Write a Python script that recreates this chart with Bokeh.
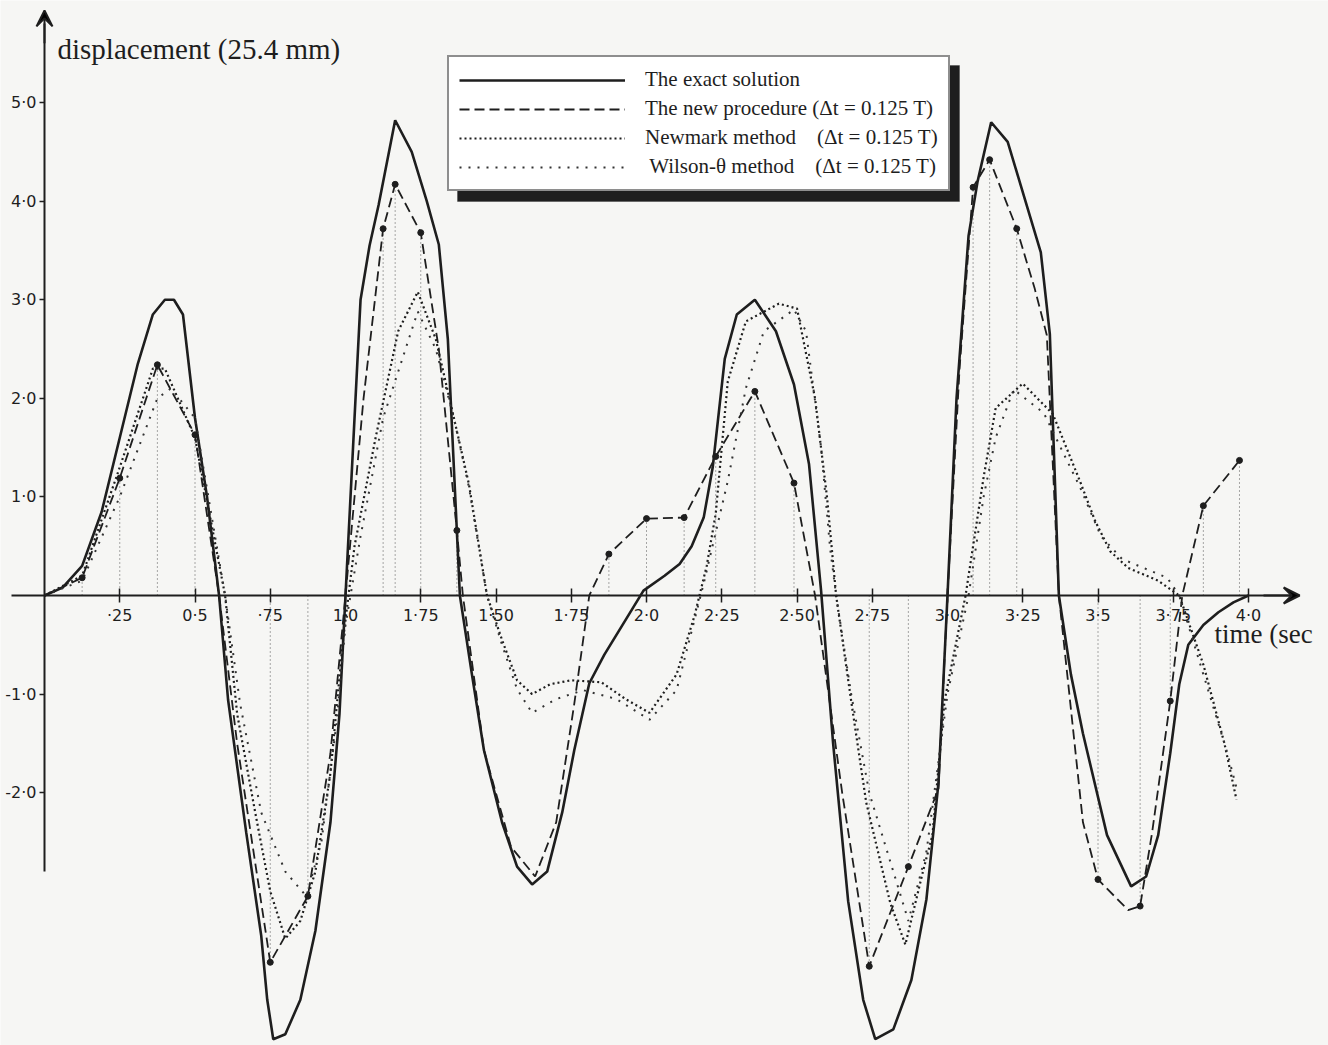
from bokeh.plotting import figure
from bokeh.models import (FixedTicker, Legend, LegendItem, Label, Arrow, VeeHead, Range1d,
                          BoxAnnotation)
from bokeh.embed import file_html
from bokeh.resources import INLINE

# ---------------- data ----------------
exact_t = [0, 0.06, 0.125, 0.19, 0.25, 0.31, 0.36, 0.40, 0.43, 0.46, 0.50, 0.54, 0.58, 0.61, 0.67,
           0.72, 0.74, 0.76, 0.80, 0.85, 0.90, 0.95, 0.98, 1.00, 1.025, 1.05, 1.08, 1.11, 1.165,
           1.22, 1.27, 1.31, 1.34, 1.38, 1.42, 1.46, 1.52, 1.57, 1.62, 1.67, 1.72, 1.76, 1.81,
           1.86, 1.92, 1.99, 2.06, 2.11, 2.15, 2.19, 2.22, 2.26, 2.30, 2.36, 2.43, 2.49, 2.54,
           2.58, 2.62, 2.67, 2.72, 2.76, 2.82, 2.88, 2.93, 2.97, 3.00, 3.03, 3.07, 3.10, 3.145,
           3.20, 3.26, 3.31, 3.34, 3.37, 3.41, 3.45, 3.53, 3.61, 3.66, 3.70, 3.74, 3.77, 3.80,
           3.85, 3.90, 3.95, 4.00]
exact_y = [0, 0.08, 0.30, 0.85, 1.60, 2.35, 2.85, 3.00, 3.00, 2.85, 1.80, 1.00, 0.00, -1.06, -2.40,
           -3.45, -4.10, -4.50, -4.45, -4.10, -3.40, -2.30, -1.20, 0.00, 1.50, 3.00, 3.55, 3.96, 4.82,
           4.50, 4.00, 3.56, 2.60, 0.00, -0.80, -1.57, -2.30, -2.75, -2.93, -2.80, -2.20, -1.57, -0.89,
           -0.60, -0.30, 0.05, 0.20, 0.32, 0.50, 0.79, 1.30, 2.40, 2.85, 3.00, 2.68, 2.14, 1.33,
           0.05, -1.50, -3.10, -4.10, -4.50, -4.40, -3.90, -3.08, -1.90, 0.00, 2.00, 3.65, 4.20, 4.80,
           4.60, 3.99, 3.48, 2.65, 0.00, -0.80, -1.40, -2.43, -2.95, -2.85, -2.43, -1.60, -0.90, -0.50,
           -0.30, -0.17, -0.07, 0.00]

new_t = [0, 0.125, 0.25, 0.375, 0.50, 0.58, 0.64, 0.75, 0.875, 0.95, 1.00, 1.06, 1.125, 1.165,
         1.25, 1.31, 1.37, 1.39, 1.46, 1.55, 1.63, 1.70, 1.76, 1.81, 1.875, 2.00, 2.125, 2.23,
         2.36, 2.49, 2.56, 2.65, 2.74, 2.87, 2.97, 3.00, 3.04, 3.085, 3.14, 3.23, 3.29, 3.33,
         3.37, 3.45, 3.50, 3.60, 3.64, 3.68, 3.74, 3.78, 3.85, 3.97]
new_y = [0, 0.18, 1.19, 2.34, 1.63, 0.00, -1.50, -3.72, -3.05, -1.60, 0.00, 2.00, 3.72, 4.17,
         3.68, 2.50, 0.66, 0.00, -1.57, -2.55, -2.85, -2.30, -1.10, 0.00, 0.42, 0.78, 0.79, 1.41,
         2.07, 1.14, 0.00, -2.00, -3.76, -2.75, -1.96, 0.00, 2.30, 4.14, 4.42, 3.72, 3.11, 2.64,
         0.00, -2.30, -2.88, -3.19, -3.15, -2.40, -1.07, 0.00, 0.91, 1.37]
new_dot = [0, 1, 1, 1, 1, 0, 0, 1, 1, 0, 0, 0, 1, 1,
           1, 0, 1, 0, 0, 0, 0, 0, 0, 0, 1, 1, 1, 1,
           1, 1, 0, 0, 1, 1, 0, 0, 0, 1, 1, 1, 0, 0,
           0, 0, 1, 0, 1, 0, 1, 0, 1, 1]

newmark_t = [0, 0.125, 0.25, 0.36, 0.40, 0.50, 0.60, 0.64, 0.70, 0.75, 0.80, 0.85, 0.90, 0.95,
             0.99, 1.03, 1.10, 1.175, 1.24, 1.30, 1.355, 1.41, 1.47, 1.52, 1.57, 1.62, 1.68,
             1.75, 1.85, 1.93, 2.01, 2.10, 2.16, 2.20, 2.23, 2.27, 2.33, 2.44, 2.50, 2.56, 2.60,
             2.63, 2.68, 2.73, 2.81, 2.86, 2.92, 2.95, 2.99, 3.06, 3.12, 3.16, 3.25, 3.35, 3.44,
             3.49, 3.54, 3.60, 3.70, 3.77, 3.85, 3.92, 3.96]
newmark_y = [0, 0.20, 1.30, 2.30, 2.30, 1.60, 0.00, -1.20, -2.20, -3.00, -3.48, -3.30, -2.80, -1.80,
             -0.50, 0.50, 1.60, 2.68, 3.08, 2.60, 1.87, 1.13, 0.00, -0.45, -0.86, -1.00, -0.90,
             -0.86, -0.88, -1.05, -1.19, -0.80, -0.20, 0.30, 0.83, 2.17, 2.78, 2.96, 2.91, 2.00, 0.99,
             0.00, -1.07, -2.10, -3.12, -3.54, -2.78, -2.43, -1.07, 0.00, 1.20, 1.90, 2.15, 1.84, 1.16,
             0.76, 0.45, 0.28, 0.15, 0.00, -0.70, -1.50, -2.07]

wilson_t = [0, 0.125, 0.25, 0.375, 0.42, 0.50, 0.60, 0.65, 0.72, 0.80, 0.87, 0.92, 0.97, 1.00,
            1.05, 1.125, 1.24, 1.30, 1.36, 1.41, 1.47, 1.52, 1.57, 1.62, 1.70, 1.79, 1.90, 2.01,
            2.10, 2.19, 2.27, 2.33, 2.39, 2.49, 2.53, 2.58, 2.61, 2.63, 2.68, 2.74, 2.80, 2.87,
            2.93, 3.00, 3.07, 3.12, 3.16, 3.22, 3.32, 3.44, 3.51, 3.58, 3.73, 3.77, 3.85, 3.93, 3.96]
wilson_y = [0, 0.15, 1.00, 2.00, 2.10, 1.80, 0.00, -1.10, -2.20, -2.80, -3.05, -2.50, -1.30, -0.30,
            0.60, 1.80, 2.88, 2.50, 1.80, 1.10, 0.00, -0.50, -0.95, -1.19, -1.05, -0.96, -1.05, -1.26,
            -0.96, 0.12, 1.16, 2.10, 2.68, 2.90, 2.68, 1.50, 0.48, 0.00, -1.00, -2.00, -2.60, -3.30,
            -2.60, -1.00, 0.00, 1.00, 1.60, 2.09, 1.85, 1.10, 0.60, 0.37, 0.18, 0.00, -0.80, -1.60, -1.95]

x_ticks = [0.25, 0.5, 0.75, 1.0, 1.25, 1.5, 1.75, 2.0, 2.25, 2.5, 2.75, 3.0, 3.25, 3.5, 3.75, 4.0]
x_labels = ["·25", "0·5", "·75", "1·0", "1·75", "1·50", "1·75", "2·0", "2·25", "2·50", "2·75",
            "3·0", "3·25", "3·5", "3·75", "4·0"]
y_ticks = [-2, -1, 1, 2, 3, 4, 5]
y_labels = ["-2·0", "-1·0", "1·0", "2·0", "3·0", "4·0", "5·0"]

legend_labels = ["The exact solution",
                 "The new procedure (Δt = 0.125 T)",
                 "Newmark method\u2002\u2002(Δt = 0.125 T)",
                 "\u2009Wilson-θ method\u2002\u2002(Δt = 0.125 T)"]

# ---------------- figure ----------------
W, H = 1328, 1045
PX_X = 301.0
PX_Y = 98.6
X0 = -44 / PX_X
X1 = X0 + W / PX_X
Y1 = 595 / PX_Y
Y0 = Y1 - H / PX_Y

INK = "#1e1e1e"
PAPER = "#f6f6f4"

p = figure(width=W, height=H, x_range=Range1d(X0, X1), y_range=Range1d(Y0, Y1),
           output_backend="svg", toolbar_location=None, min_border=0)
p.min_border_left = p.min_border_right = p.min_border_top = p.min_border_bottom = 0
p.outline_line_color = None
p.grid.visible = False
p.background_fill_color = PAPER
p.border_fill_color = PAPER

# axes through the origin
p.xaxis.fixed_location = 0
p.yaxis.fixed_location = 0
p.xaxis.bounds = (-0.11, 4.15)
p.yaxis.bounds = (-2.8, 5.8)
p.xaxis.ticker = FixedTicker(ticks=x_ticks)
p.yaxis.ticker = FixedTicker(ticks=y_ticks)
p.xaxis.major_label_overrides = {t: l for t, l in zip(x_ticks, x_labels)}
p.yaxis.major_label_overrides = {t: l for t, l in zip(y_ticks, y_labels)}
for ax in (p.xaxis, p.yaxis):
    ax.axis_line_color = INK
    ax.axis_line_width = 2
    ax.major_tick_line_color = INK
    ax.major_tick_line_width = 1.5
    ax.minor_tick_line_color = None
    ax.major_label_text_color = INK
    ax.major_label_text_font = "DejaVu Sans"
    ax.major_label_text_font_size = "16px"
p.xaxis.major_tick_in = 7
p.xaxis.major_tick_out = 7
p.xaxis.major_label_standoff = 3
p.yaxis.major_tick_in = 0
p.yaxis.major_tick_out = 5
p.yaxis.major_label_standoff = 3

# axis arrows
p.add_layout(Arrow(end=VeeHead(size=16, line_color=INK, line_width=2), line_color=INK, line_width=2,
                   x_start=4.05, y_start=0, x_end=4.17, y_end=0))
p.add_layout(Arrow(end=VeeHead(size=16, line_color=INK, line_width=2), line_color=INK, line_width=2,
                   x_start=0, y_start=5.6, x_end=0, y_end=Y1 - 0.1))

# drop lines from marked points
dot_t = [t for t, d in zip(new_t, new_dot) if d]
dot_y = [y for y, d in zip(new_y, new_dot) if d]
p.segment(x0=dot_t, y0=[0] * len(dot_t), x1=dot_t, y1=dot_y, line_color="#555555",
          line_width=1, line_dash="1 3")

r_exact = p.line(exact_t, exact_y, line_color=INK, line_width=2.6)
r_new = p.line(new_t, new_y, line_color=INK, line_width=1.8, line_dash="10 5")
r_nm = p.line(newmark_t, newmark_y, line_color=INK, line_width=2.2, line_dash="2 3")
r_wil = p.line(wilson_t, wilson_y, line_color="#333333", line_width=2.0, line_dash="2 7")
p.scatter(dot_t, dot_y, size=6, color=INK)

# legend box with heavy shadow (screen units)
LEG_X, LEG_TOP = 447, 55          # top-left corner of the legend, px from top-left
LEG_W, LEG_H = 502, 136           # legend size as rendered
SH = 10                           # shadow thickness
p.add_layout(BoxAnnotation(left=LEG_X + SH, right=LEG_X + LEG_W + SH,
                           top=H - (LEG_TOP + SH), bottom=H - (LEG_TOP + LEG_H + SH),
                           left_units="screen", right_units="screen",
                           top_units="screen", bottom_units="screen",
                           fill_color=INK, fill_alpha=1.0, line_color=INK))

items = [LegendItem(label=lab, renderers=[r]) for lab, r in
         zip(legend_labels, [r_exact, r_new, r_nm, r_wil])]
legend = Legend(items=items, location=(LEG_X, H - LEG_TOP - LEG_H), orientation="vertical",
                glyph_width=166, glyph_height=22, label_height=22, spacing=4, padding=10,
                margin=0, label_standoff=20,
                label_text_font="Liberation Serif", label_text_font_size="21px",
                label_text_color=INK, border_line_width=2, border_line_color=INK,
                background_fill_color="white", background_fill_alpha=1.0)
p.add_layout(legend, "center")

p.add_layout(Label(x=57, y=H - 64, x_units="screen", y_units="screen",
                   text="displacement  (25.4 mm)", text_font="Liberation Serif",
                   text_font_size="29px", text_color=INK))
p.add_layout(Label(x=1214, y=H - 648, x_units="screen", y_units="screen",
                   text="time (sec", text_font="Liberation Serif",
                   text_font_size="27px", text_color=INK))

open("out.html", "w").write(file_html(p, INLINE))
